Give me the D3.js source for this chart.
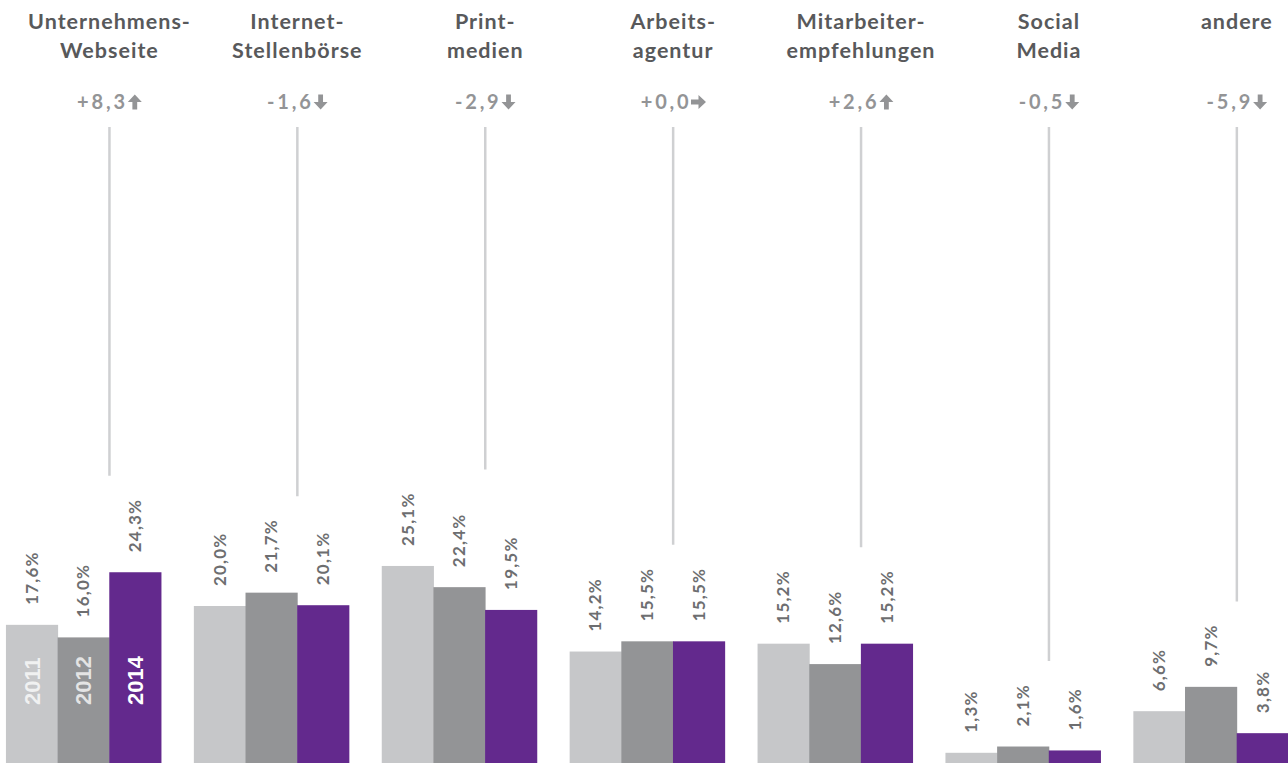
<!DOCTYPE html>
<html>
<head>
  <meta charset="utf-8">
  <title>Bewerbungskanäle</title>
  <script src="https://d3js.org/d3.v7.min.js"></script>
  <style>
    body { margin: 0; background: #fff; }
    svg { display: block; font-family: Lato, "Open Sans", sans-serif; }
    .title { font-size: 21.5px; font-weight: bold; fill: #58595b; letter-spacing: 1px; }
    .change { font-size: 20px; font-weight: bold; fill: #939496; letter-spacing: 2.8px; }
    .val { font-size: 17px; font-weight: bold; fill: #6d6e70; letter-spacing: 1.2px; }
    .year { font-family: "Liberation Sans", Arial, sans-serif; font-size: 22px; font-weight: bold; }
  </style>
</head>
<body>
<div id="chart"></div>
<script>
// data
var categories = ["Unternehmens-|Webseite", "Internet-|Stellenbörse", "Print-|medien",
                  "Arbeits-|agentur", "Mitarbeiter-|empfehlungen", "Social|Media", "andere"];
var years = ["2011", "2012", "2014"];
var v2011 = [17.6, 20.0, 25.1, 14.2, 15.2, 1.3, 6.6];
var v2012 = [16.0, 21.7, 22.4, 15.5, 12.6, 2.1, 9.7];
var v2014 = [24.3, 20.1, 19.5, 15.5, 15.2, 1.6, 3.8];
var changes = ["+8,3", "-1,6", "-2,9", "+0,0", "+2,6", "-0,5", "-5,9"];
var trend = ["up", "down", "down", "flat", "up", "down", "down"];

var colors = {"2011": "#c6c7c9", "2012": "#939496", "2014": "#63298d"};
var yearText = {"2011": "rgba(255,255,255,0.75)", "2012": "rgba(255,255,255,0.75)", "2014": "#ffffff"};

var width = 1288, height = 763;

var svg = d3.select("#chart").append("svg")
    .attr("width", width)
    .attr("height", height);

var x = d3.scaleBand()
    .domain(categories)
    .range([15.5, 15.5 + 7 * 187.9]);

var xBar = d3.scaleBand()
    .domain(years)
    .range([-103.5, 51.5]);

var y = d3.scaleLinear()
    .domain([0, 100])
    .range([height, height - 785]);

var fmt = function(v) { return d3.format(".1f")(v).replace(".", ",") + "%"; };

var rows = categories.map(function(c, i) {
  return {
    cat: c,
    cx: x(c) + x.bandwidth() / 2,
    vals: [
      {year: "2011", v: v2011[i]},
      {year: "2012", v: v2012[i]},
      {year: "2014", v: v2014[i]}
    ],
    change: changes[i],
    trend: trend[i]
  };
});

var groups = svg.selectAll("g.group")
  .data(rows)
  .enter().append("g")
    .attr("class", "group")
    .attr("transform", function(d) { return "translate(" + d.cx + ",0)"; });

// titles
groups.append("text")
    .attr("class", "title")
    .attr("text-anchor", "middle")
    .selectAll("tspan")
    .data(function(d) { return d.cat.split("|"); })
    .enter().append("tspan")
      .attr("x", 0)
      .attr("y", function(d, i) { return 29 + i * 29; })
      .text(function(d) { return d; });

// bars
groups.selectAll("rect")
  .data(function(d) { return d.vals; })
  .enter().append("rect")
    .attr("x", function(d) { return xBar(d.year); })
    .attr("width", xBar.bandwidth() + 0.5)
    .attr("y", function(d) { return y(d.v); })
    .attr("height", function(d) { return y(0) - y(d.v); })
    .attr("fill", function(d) { return colors[d.year]; });

// value labels
groups.selectAll("text.val")
  .data(function(d) { return d.vals; })
  .enter().append("text")
    .attr("class", "val")
    .attr("transform", function(d) {
      return "translate(" + (xBar(d.year) + xBar.bandwidth() / 2 + 6) + "," + (y(d.v) - 20) + ") rotate(-90)";
    })
    .text(function(d) { return fmt(d.v); });

// year labels in first group
groups.filter(function(d, i) { return i === 0; })
  .selectAll("text.year")
  .data(function(d) { return d.vals; })
  .enter().append("text")
    .attr("class", "year")
    .attr("fill", function(d) { return yearText[d.year]; })
    .attr("transform", function(d) {
      return "translate(" + (xBar(d.year) + xBar.bandwidth() / 2 + 8) + "," + (height - 58) + ") rotate(-90)";
    })
    .text(function(d) { return d.year; });

// connector lines: end above highest value label
groups.each(function(d) {
  var g = d3.select(this);
  var top = d3.min(g.selectAll("text.val").nodes(), function(n, i) {
    return y(d.vals[i].v) - 20 - n.getComputedTextLength();
  });
  g.insert("line", ":first-child")
    .attr("x1", 0).attr("x2", 0)
    .attr("y1", 127)
    .attr("y2", top - 23)
    .attr("stroke", "#cfd0d2")
    .attr("stroke-width", 2.5);
});

// change labels with arrows
groups.each(function(d) {
  var g = d3.select(this);
  var t = g.append("text")
    .attr("class", "change")
    .attr("y", 109)
    .text(d.change);
  var w = t.node().getComputedTextLength();
  var total = w + 14;
  t.attr("x", -total / 2);
  var ax = -total / 2 + w + 7, ay = 102;
  var arrow = g.append("g")
    .attr("transform", "translate(" + ax + "," + ay + ") rotate(" +
      (d.trend === "up" ? 0 : d.trend === "down" ? 180 : 90) + ")");
  arrow.append("path")
    .attr("d", "M0,-7.5 L7,0 L2.4,0 L2.4,7.5 L-2.4,7.5 L-2.4,0 L-7,0 Z")
    .attr("fill", "#939496");
});
</script>
</body>
</html>
